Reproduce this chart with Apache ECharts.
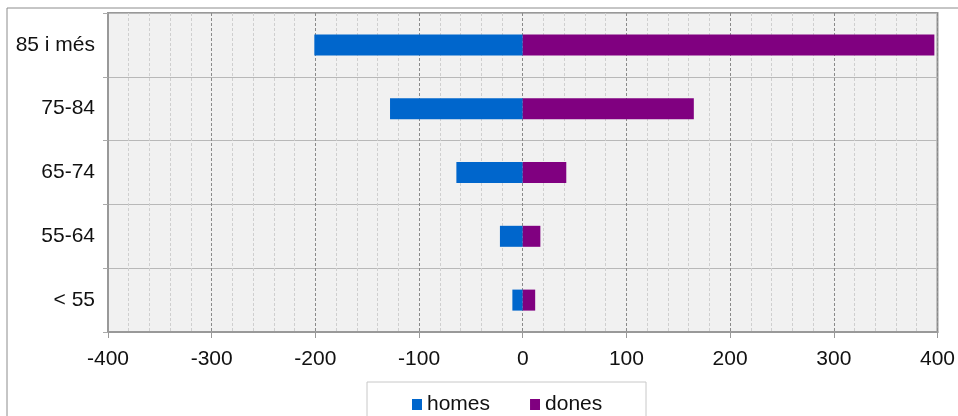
<!DOCTYPE html>
<html>
<head>
<meta charset="utf-8">
<script src="https://cdn.jsdelivr.net/npm/echarts@6/dist/echarts.min.js"></script>
<style>
html,body{margin:0;padding:0;background:#fff;}
#chart{width:958px;height:416px;}
</style>
</head>
<body>
<div id="chart"></div>
<script>
const categories = ['< 55', '55-64', '65-74', '75-84', '85 i més'];
const homes = [-10, -22, -64, -128, -201];
const dones = [12, 17, 42, 165, 397];
const xTicks = [-400, -300, -200, -100, 0, 100, 200, 300, 400];

const chart = echarts.init(document.getElementById('chart'), null, {renderer: 'canvas'});
const font = 'Liberation Sans, Arial, sans-serif';
chart.setOption({
  animation: false,
  backgroundColor: '#ffffff',
  graphic: [
    {type: 'rect', shape: {x: 7, y: 8, width: 980, height: 440}, style: {fill: 'none', stroke: '#8c8c8c', lineWidth: 1}, z: -10},
    {type: 'rect', shape: {x: 367, y: 382, width: 279, height: 60}, style: {fill: '#fff', stroke: '#c8c8c8', lineWidth: 1}, z: -5}
  ],
  grid: {
    left: 108, right: 20, top: 13, bottom: 84,
    show: true, backgroundColor: '#f1f1f1', borderColor: '#999999', borderWidth: 2
  },
  legend: {
    data: ['homes', 'dones'],
    left: 407, top: 389,
    itemWidth: 10, itemHeight: 11, itemGap: 40, icon: 'rect',
    textStyle: {fontFamily: font, fontSize: 21, color: '#111'}
  },
  xAxis: {
    type: 'value', min: xTicks[0], max: xTicks[xTicks.length - 1], interval: 100,
    axisLine: {show: true, lineStyle: {color: '#999', width: 2}},
    axisTick: {show: true, length: 6, lineStyle: {color: '#999'}},
    axisLabel: {fontFamily: font, fontSize: 21, color: '#111', margin: 17},
    splitLine: {show: true, lineStyle: {color: '#8a8a8a', type: [3, 2], width: 1}},
    minorTick: {show: false, splitNumber: 5},
    minorSplitLine: {show: true, lineStyle: {color: '#cfcfcf', type: [3, 2], width: 1}}
  },
  yAxis: {
    type: 'category', data: categories,
    axisLine: {show: true, onZero: false, lineStyle: {color: '#999', width: 2}},
    axisTick: {show: true, length: 5, alignWithLabel: false, lineStyle: {color: '#aaa'}},
    axisLabel: {fontFamily: font, fontSize: 21, color: '#111', margin: 13},
    splitLine: {show: true, lineStyle: {color: '#b8b8b8', width: 1}}
  },
  series: [
    {name: 'homes', type: 'bar', data: homes, barWidth: 21, barGap: '-100%',
     itemStyle: {color: '#0066cc'}},
    {name: 'dones', type: 'bar', data: dones, barWidth: 21,
     itemStyle: {color: '#800080'}}
  ]
});
</script>
</body>
</html>
